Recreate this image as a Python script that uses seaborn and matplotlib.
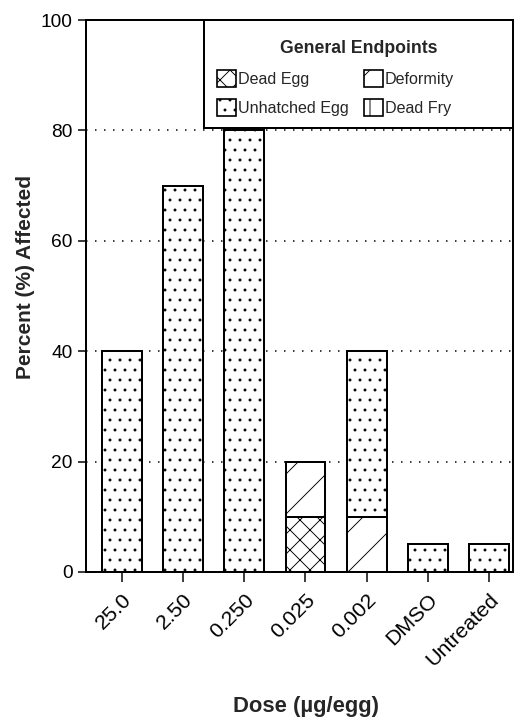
import matplotlib
matplotlib.use("Agg")
import matplotlib.pyplot as plt
from matplotlib.patches import Patch, Rectangle
from matplotlib.transforms import ScaledTranslation
import pandas as pd
import seaborn as sns

# Dose groups and percent of eggs/fry affected per endpoint
doses = ["25.0", "2.50", "0.250", "0.025", "0.002", "DMSO", "Untreated"]
dead_egg = [0, 0, 0, 10, 0, 0, 0]
deformity = [0, 0, 0, 10, 10, 0, 0]
unhatched_egg = [40, 70, 80, 0, 30, 5, 5]
dead_fry = [0, 0, 0, 0, 0, 0, 0]

endpoints = ["Dead Egg", "Deformity", "Unhatched Egg", "Dead Fry"]
hatch_for = {"Dead Egg": "xx", "Deformity": "/", "Unhatched Egg": "..", "Dead Fry": "|"}
y_ticks = [0, 20, 40, 60, 80, 100]

sns.set_style("ticks")
plt.rcParams["font.family"] = ["Liberation Sans", "DejaVu Sans"]
plt.rcParams["hatch.linewidth"] = 0.55
plt.rcParams["hatch.color"] = "black"

df = pd.DataFrame({
    "dose": doses,
    "Dead Egg": dead_egg,
    "Deformity": deformity,
    "Unhatched Egg": unhatched_egg,
    "Dead Fry": dead_fry,
})
# cumulative tops for stacking (bottom layer first)
running = 0
for name in endpoints:
    running = running + df[name]
    df["top_" + name] = running

fig = plt.figure(figsize=(4.3, 6.0), dpi=120)
ax = fig.add_axes([0.1667, 0.2056, 0.8275, 0.7666])
ax.set_axisbelow(True)

# draw the tallest cumulative layer first so lower layers paint over it
for name in reversed(endpoints):
    sns.barplot(data=df, x="dose", y="top_" + name, order=doses, ax=ax,
                color="white", saturation=1, width=0.65,
                edgecolor="black", linewidth=1.2, hatch=hatch_for[name])

ax.set_xlim(-0.583, 6.39)
ax.set_ylim(0, 100)
ax.set_yticks(y_ticks)
ax.set_yticklabels([str(v) for v in y_ticks], fontsize=11.5)
ax.yaxis.grid(True, color="black", linewidth=0.9, linestyle=(0, (1, 5)))
ax.xaxis.grid(False)

ax.tick_params(axis="y", length=5, width=0.9, pad=3, colors="black")
ax.tick_params(axis="x", length=6, width=0.9, pad=9, colors="black")
shift = ScaledTranslation(7 / 120, 0, fig.dpi_scale_trans)
for lab in ax.get_xticklabels():
    lab.set_rotation(45)
    lab.set_ha("right")
    lab.set_va("center")
    lab.set_rotation_mode("anchor")
    lab.set_fontsize(12.8)
    lab.set_transform(lab.get_transform() + shift)

for sp in ax.spines.values():
    sp.set_visible(True)
    sp.set_linewidth(1.2)
    sp.set_color("black")

ax.set_ylabel("Percent (%) Affected", fontsize=12.5, fontweight="bold")
ax.yaxis.set_label_coords(-0.119, 0.534)
ax.set_xlabel("Dose (\u00b5g/egg)", fontsize=13.2, fontweight="bold")
ax.xaxis.set_label_coords(0.515, -0.224)

# legend box with centred title
ax.add_patch(Rectangle((0.276, 0.804), 0.724, 0.196, transform=ax.transAxes,
                       facecolor="white", edgecolor="black", linewidth=1.2,
                       zorder=4, clip_on=False))
ax.text(0.638, 0.949, "General Endpoints", transform=ax.transAxes,
        ha="center", va="center", fontsize=10.6, fontweight="bold", zorder=6)
handles = [Patch(facecolor="white", edgecolor="black", linewidth=1.0,
                 hatch=hatch_for[n], label=n) for n in endpoints]
order = ["Dead Egg", "Unhatched Egg", "Deformity", "Dead Fry"]
handles = [h for n in order for h in handles if h.get_label() == n]
leg = ax.legend(handles=handles, ncols=2, loc="upper left",
                bbox_to_anchor=(0.307, 0.909), frameon=False,
                fontsize=9.7, handlelength=1.17, handleheight=1.2,
                handletextpad=0.15, columnspacing=0.9, labelspacing=0.75,
                borderpad=0, borderaxespad=0)
leg.set_zorder(6)

fig.savefig("out.png", dpi=120)
